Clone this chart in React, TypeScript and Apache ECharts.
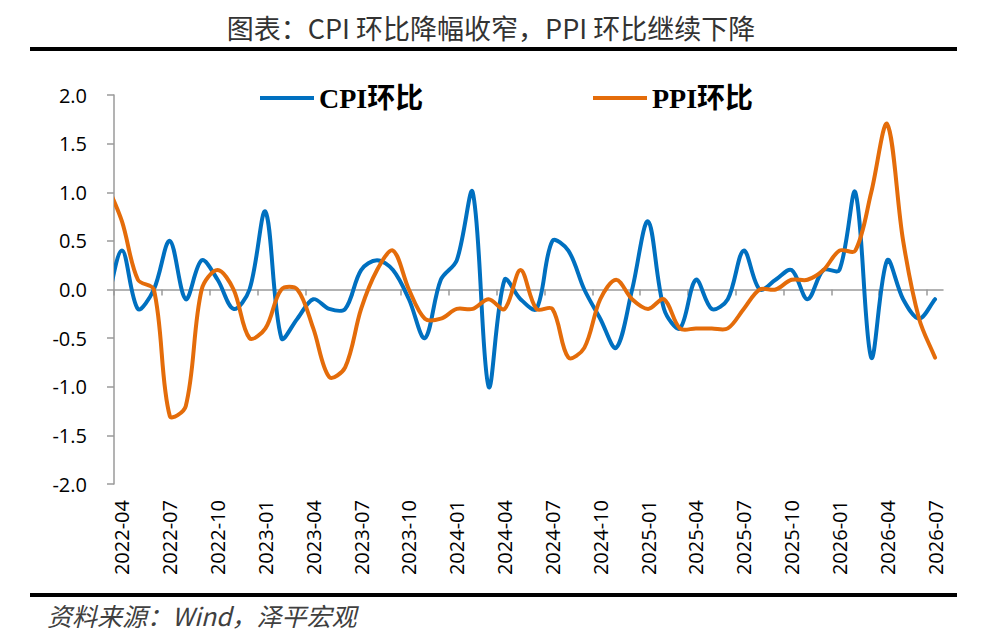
import { useEffect, useRef } from "react";
import * as echarts from "echarts";

// 月份：第一个月（2022-03）只用于让曲线从坐标轴左端“切入”
const months = [
  "2022-03", "2022-04", "2022-05", "2022-06", "2022-07", "2022-08", "2022-09", "2022-10", "2022-11", "2022-12",
  "2023-01", "2023-02", "2023-03", "2023-04", "2023-05", "2023-06", "2023-07", "2023-08", "2023-09", "2023-10", "2023-11", "2023-12",
  "2024-01", "2024-02", "2024-03", "2024-04", "2024-05", "2024-06", "2024-07", "2024-08", "2024-09", "2024-10", "2024-11", "2024-12",
  "2025-01", "2025-02", "2025-03", "2025-04", "2025-05", "2025-06", "2025-07", "2025-08", "2025-09", "2025-10", "2025-11", "2025-12",
  "2026-01", "2026-02", "2026-03", "2026-04", "2026-05", "2026-06", "2026-07",
];

const cpiMoM = [
  -0.2, 0.4, -0.2, 0.0, 0.5, -0.1, 0.3, 0.1, -0.2, 0.0,
  0.8, -0.5, -0.3, -0.1, -0.2, -0.2, 0.2, 0.3, 0.2, -0.1, -0.5, 0.1,
  0.3, 1.0, -1.0, 0.1, -0.1, -0.2, 0.5, 0.4, 0.0, -0.3, -0.6, 0.0,
  0.7, -0.2, -0.4, 0.1, -0.2, -0.1, 0.4, 0.0, 0.1, 0.2, -0.1, 0.2,
  0.2, 1.0, -0.7, 0.3, -0.1, -0.3, -0.1,
];

const ppiMoM = [
  1.1, 0.7, 0.1, 0.0, -1.3, -1.2, 0.0, 0.2, 0.0, -0.5,
  -0.4, 0.0, 0.0, -0.4, -0.9, -0.8, -0.2, 0.2, 0.4, 0.0, -0.3, -0.3,
  -0.2, -0.2, -0.1, -0.2, 0.2, -0.2, -0.2, -0.7, -0.6, -0.1, 0.1, -0.1,
  -0.2, -0.1, -0.4, -0.4, -0.4, -0.4, -0.2, 0.0, 0.0, 0.1, 0.1, 0.2,
  0.4, 0.4, 1.0, 1.7, 0.5, -0.3, -0.7,
];

const FIRST_SHOWN = 1; // 2022-04
const SHOWN_MONTHS = months.length - FIRST_SHOWN; // 52
const TICK_STEP = 3;

const tickPos: number[] = [];
for (let k = 0; k < SHOWN_MONTHS; k += TICK_STEP) tickPos.push(k);
const labelPos = tickPos.map((p) => p + 0.5);

const axisGray = "#9a9a9a";
const labelFont = "'Open Sans', 'Noto Sans', sans-serif";
const legendFont = "'Liberation Serif', 'Noto Sans CJK SC', serif";

// Excel 风格平滑：贝塞尔控制点按前后线段长度分配
function smoothPath(pts: number[][]) {
  const dist = (a: number[], b: number[]) => Math.hypot(b[0] - a[0], b[1] - a[1]);
  const n = pts.length;
  let d = `M${pts[0][0]},${pts[0][1]}`;
  for (let i = 0; i < n - 1; i++) {
    const p0 = pts[Math.max(i - 1, 0)];
    const p1 = pts[i];
    const p2 = pts[i + 1];
    const p3 = pts[Math.min(i + 2, n - 1)];
    const d01 = dist(p0, p1);
    const d12 = dist(p1, p2);
    const d23 = dist(p2, p3);
    const f1 = d01 + d12 > 0 ? d12 / (d01 + d12) / 3 : 0;
    const f2 = d12 + d23 > 0 ? d12 / (d12 + d23) / 3 : 0;
    const c1x = p1[0] + (p2[0] - p0[0]) * f1;
    const c1y = p1[1] + (p2[1] - p0[1]) * f1;
    const c2x = p2[0] - (p3[0] - p1[0]) * f2;
    const c2y = p2[1] - (p3[1] - p1[1]) * f2;
    d += ` C${c1x},${c1y} ${c2x},${c2y} ${p2[0]},${p2[1]}`;
  }
  return d;
}

export default function App() {
  const chartRef = useRef<HTMLDivElement>(null);

  useEffect(() => {
    const chart = echarts.init(chartRef.current!, null, { renderer: "svg" });

    const toPoints = (vals: number[]) =>
      vals.map((v, k) => [k - FIRST_SHOWN + 0.5, v]);

    const curveSeries = (name: string, vals: number[], color: string) => {
      const data = toPoints(vals);
      return {
        name,
        type: "custom",
        data,
        clip: true,
        encode: { x: 0, y: 1 },
        itemStyle: { color },
        renderItem: (params: any, api: any) => {
          if (params.dataIndex !== 0) return null;
          const pts = data.map((p) => api.coord(p));
          return {
            type: "path",
            shape: { pathData: smoothPath(pts) },
            style: { stroke: color, lineWidth: 4, fill: "none", lineJoin: "round", lineCap: "round" },
          };
        },
      };
    };

    const legendBase = {
      top: 79,
      icon: "rect",
      itemWidth: 54,
      itemHeight: 4,
      textStyle: { fontFamily: legendFont, fontWeight: "bold", fontSize: 28, color: "#000" },
    };

    const option = {
      animation: false,
      title: {
        text: "图表：CPI 环比降幅收窄，PPI 环比继续下降",
        left: "center",
        top: 9,
        textStyle: {
          fontFamily: "'Noto Sans CJK SC', sans-serif",
          fontWeight: "normal",
          fontSize: 27,
          color: "#333",
        },
      },
      legend: [
        { ...legendBase, data: ["CPI环比"], left: 255 },
        { ...legendBase, data: ["PPI环比"], left: 588 },
      ],
      grid: { left: 114, right: 39, top: 95, bottom: 158 },
      xAxis: [
        {
          type: "value",
          min: 0,
          max: SHOWN_MONTHS,
          position: "bottom",
          axisLine: { onZero: true, lineStyle: { color: axisGray, width: 1.5 } },
          axisTick: { show: true, length: 6, customValues: tickPos, lineStyle: { color: axisGray, width: 1.5 } },
          axisLabel: { show: false },
          splitLine: { show: false },
        },
        {
          type: "value",
          min: 0,
          max: SHOWN_MONTHS,
          position: "bottom",
          axisLine: { show: false, onZero: false },
          axisTick: { show: false },
          splitLine: { show: false },
          axisLabel: {
            rotate: 90,
            margin: 16,
            customValues: labelPos,
            fontFamily: labelFont,
            fontSize: 20,
            color: "#000",
            formatter: (v: number) => months[Math.floor(v + 1e-6) + FIRST_SHOWN] ?? "",
          },
        },
      ],
      yAxis: {
        type: "value",
        min: -2,
        max: 2,
        interval: 0.5,
        axisLine: { show: true, lineStyle: { color: axisGray, width: 1.5 } },
        axisTick: { show: true, length: 7, lineStyle: { color: axisGray, width: 1.5 } },
        splitLine: { show: false },
        axisLabel: {
          margin: 27,
          fontFamily: labelFont,
          fontSize: 20,
          color: "#000",
          formatter: (v: number) => v.toFixed(1),
        },
      },
      graphic: [
        { type: "rect", shape: { x: 30, y: 47, width: 927, height: 4 }, style: { fill: "#000" } },
        { type: "rect", shape: { x: 30, y: 593, width: 927, height: 4 }, style: { fill: "#000" } },
        {
          type: "text",
          left: 47,
          top: 602,
          style: {
            text: "资料来源：Wind，泽平宏观",
            fontFamily: "'Noto Sans CJK SC', sans-serif",
            fontStyle: "italic",
            fontSize: 25,
            fill: "#404040",
          },
        },
      ],
      series: [
        curveSeries("CPI环比", cpiMoM, "#0070C0"),
        curveSeries("PPI环比", ppiMoM, "#E46C0A"),
      ],
    };

    chart.setOption(option);

    return () => {
      chart.dispose();
    };
  }, []);

  return (
    <div
      ref={chartRef}
      style={{ position: "fixed", left: 0, top: 0, width: "982px", height: "642px", background: "#fff" }}
    />
  );
}
